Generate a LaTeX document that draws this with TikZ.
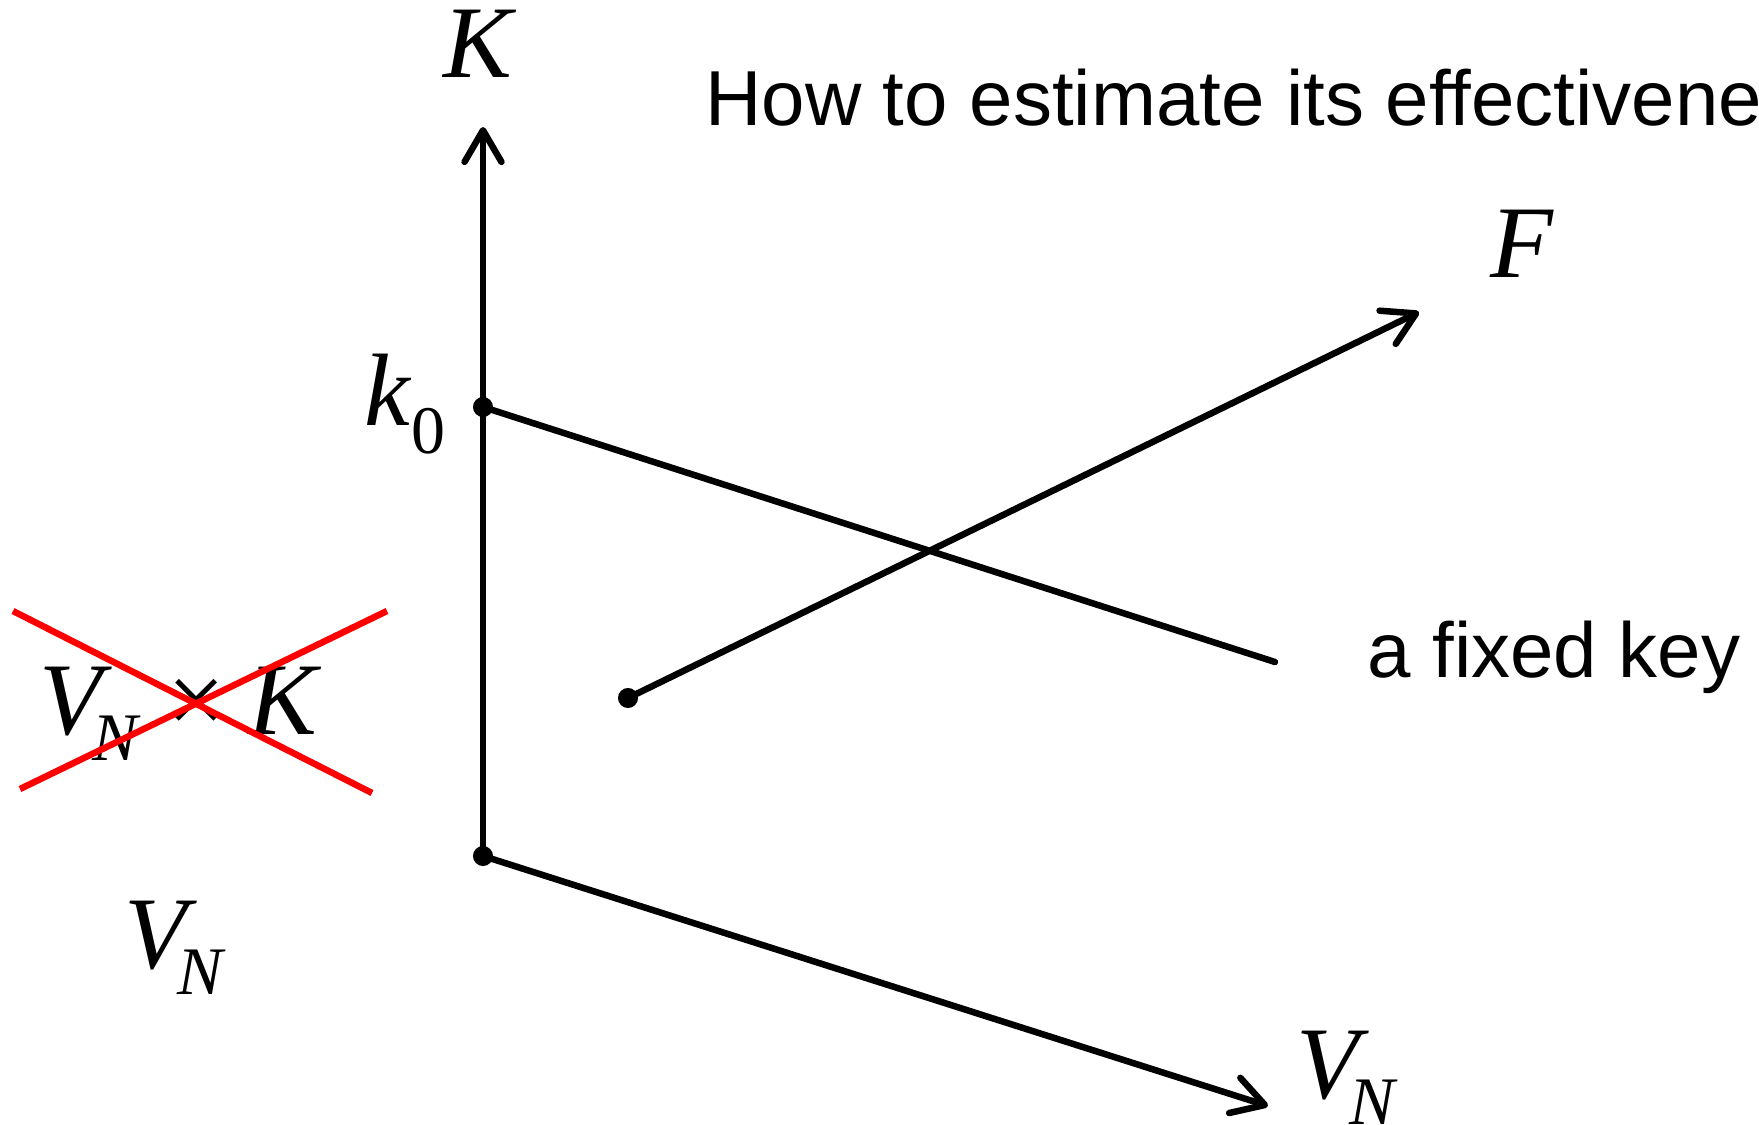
\documentclass[tikz,border=0pt]{standalone}
\usepackage{fontspec}
\setmainfont{Liberation Sans}
\newfontfamily\tnr{Liberation Serif}
\usetikzlibrary{arrows.meta}
\newcommand\mainsz{\fontsize{58.6pt}{60pt}\selectfont}
\newcommand\subsz{\fontsize{38.7pt}{40pt}\selectfont}
\newcommand\txtsz{\fontsize{44.4pt}{46pt}\selectfont}
\newcommand\VNlab{\hbox{\tnr\itshape\mainsz V\kern-5.7pt\raisebox{-14.8pt}{\subsz N}}}
\begin{document}
\begin{tikzpicture}[x=0.02cm,y=-0.02cm,
  axis/.style={line width=3.7pt, line cap=round, line join=round},
  arr/.style={axis, -{Straight Barb[length=18pt, width=21pt, line cap=round, line join=round]}},
  cross/.style={red, line width=3.7pt},
  dot/.style={circle, fill=black, inner sep=0pt, minimum size=11.4pt},
  lab/.style={inner sep=0pt, anchor=base west},
  txt/.style={inner sep=0pt, anchor=base west, font=\txtsz}]
\useasboundingbox (0,0) rectangle (1759,1125);
\clip (0,0) rectangle (1759,1125);

% points
\node[dot] (O)  at (483,856) {};
\node[dot] (k0) at (483,407) {};
\node[dot] (Fs) at (628,698) {};
\coordinate (Kt) at (483,127);
\coordinate (Vt) at (1268,1106);
\coordinate (ke) at (1275,662);
\coordinate (Ft) at (1419,312);

% axes
\draw[arr] (O.center) -- (Kt);
\draw[arr] (O.center) -- (Vt);
\draw[axis] (k0.center) -- (ke);
\draw[arr] (Fs.center) -- (Ft);

% labels
\node[lab] (Klab) at (443,78) {\tnr\itshape\mainsz K};
\node[lab] (k0lab) at (364,425) {\tnr\itshape\mainsz k\kern1pt\raisebox{-16.5pt}{\subsz\upshape 0}};
\node[lab] (Flab) at (1490,278) {\tnr\itshape\mainsz F};
\node[lab] (VNr) at (1296,1098) {\VNlab};
\node[lab] (VNb) at (124,968) {\VNlab};
\node[lab] (VNl) at (39,734) {\VNlab};
\node[inner sep=0pt, anchor=base] (times) at (197,734) {\tnr\mainsz ×};
\node[lab] (Kl) at (248,734) {\tnr\itshape\mainsz K};

\node[txt] (title) at (705,126) {How to estimate its effectiveness};
\node[txt] (fixed) at (1367,677) {a fixed key};

% red cross
\coordinate (r1a) at (13,611);
\coordinate (r1b) at (372,793);
\coordinate (r2a) at (20,789);
\coordinate (r2b) at (387,611);
\draw[cross] (r1a) -- (r1b);
\draw[cross] (r2a) -- (r2b);
\end{tikzpicture}
\end{document}
